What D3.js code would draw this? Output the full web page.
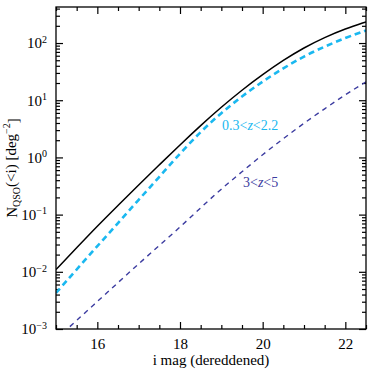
<!DOCTYPE html>
<html>
<head>
<meta charset="utf-8">
<script src="https://cdn.jsdelivr.net/npm/d3@7"></script>
</head>
<body style="margin:0">
<script>
// i magnitude grid
const mag = [15, 15.5, 16, 16.5, 17, 17.5, 18, 18.5, 19, 19.5, 20, 20.5, 21, 21.5, 22, 22.5]
// log10 N(<i) per sq deg
const logTotal = [-1.96, -1.58, -1.2, -0.84, -0.48, -0.13, 0.22, 0.56, 0.88, 1.18, 1.45, 1.7, 1.92, 2.1, 2.25, 2.37]
const logLowZ  = [-2.37, -1.96, -1.55, -1.15, -0.74, -0.34, 0.07, 0.45, 0.78, 1.07, 1.33, 1.56, 1.77, 1.94, 2.09, 2.22]
const logHighZ = [-3.18, -2.85, -2.52, -2.19, -1.86, -1.54, -1.22, -0.88, -0.55, -0.25, 0.05, 0.33, 0.6, 0.85, 1.1, 1.32]

const xMajor = [16, 18, 20, 22]
const yMajor = [-3, -2, -1, 0, 1, 2]     // exponents

const width = 374
const height = 374
const marginLeft = 56
const marginRight = 8
const marginTop = 7
const marginBottom = 45

const x = d3.scaleLinear([15, 22.5], [marginLeft, width - marginRight])
const y = d3.scaleLog([1e-3, Math.pow(10, 2.63)], [height - marginBottom, marginTop])

const svg = d3.select("body").append("svg")
    .attr("width", width)
    .attr("height", height)

// minor ticks
const xMinor = d3.range(15, 22.51, 0.5).filter(v => !xMajor.includes(v))
const yMinor = []
for (let e = -3; e <= 2; e++) {
    for (let k = 2; k <= 9; k++) {
        const v = k * Math.pow(10, e)
        if (v <= y.domain()[1]) yMinor.push(v)
    }
}

const tickStyle = g => {
    g.select(".domain").remove()
    g.attr("font-family", null)
    g.selectAll(".tick line").attr("stroke", "#000").attr("stroke-width", 1.2)
}

// bottom / top
svg.append("g")
    .attr("transform", `translate(0,${height - marginBottom})`)
    .call(d3.axisBottom(x).tickValues(xMajor).tickSize(-7).tickPadding(9).tickFormat(d3.format("d")))
    .call(tickStyle)
    .call(g => g.selectAll(".tick text").attr("font-size", 15).attr("fill", "#000"))
svg.append("g")
    .attr("transform", `translate(0,${height - marginBottom})`)
    .call(d3.axisBottom(x).tickValues(xMinor).tickSize(-4).tickFormat(""))
    .call(tickStyle)
svg.append("g")
    .attr("transform", `translate(0,${marginTop})`)
    .call(d3.axisTop(x).tickValues(xMajor).tickSize(-7).tickFormat(""))
    .call(tickStyle)
svg.append("g")
    .attr("transform", `translate(0,${marginTop})`)
    .call(d3.axisTop(x).tickValues(xMinor).tickSize(-4).tickFormat(""))
    .call(tickStyle)

// left / right
const yAxisLeft = svg.append("g")
    .attr("transform", `translate(${marginLeft},0)`)
    .call(d3.axisLeft(y).tickValues(yMajor.map(e => Math.pow(10, e))).tickSize(-7).tickPadding(9))
    .call(tickStyle)
yAxisLeft.selectAll(".tick text")
    .attr("font-size", 15).attr("fill", "#000")
    .text(null)
    .each(function(d) {
        const t = d3.select(this)
        const e = Math.round(Math.log10(d))
        t.append("tspan").text("10")
        t.append("tspan").attr("dy", "-0.55em").attr("font-size", 10)
            .text(e < 0 ? "\u2212" + Math.abs(e) : e)
    })
svg.append("g")
    .attr("transform", `translate(${marginLeft},0)`)
    .call(d3.axisLeft(y).tickValues(yMinor).tickSize(-4).tickFormat(""))
    .call(tickStyle)
svg.append("g")
    .attr("transform", `translate(${width - marginRight},0)`)
    .call(d3.axisRight(y).tickValues(yMajor.map(e => Math.pow(10, e))).tickSize(-7).tickFormat(""))
    .call(tickStyle)
svg.append("g")
    .attr("transform", `translate(${width - marginRight},0)`)
    .call(d3.axisRight(y).tickValues(yMinor).tickSize(-4).tickFormat(""))
    .call(tickStyle)

// curves
svg.append("clipPath").attr("id", "clip")
    .append("rect")
    .attr("x", marginLeft).attr("y", marginTop)
    .attr("width", width - marginLeft - marginRight)
    .attr("height", height - marginTop - marginBottom)

const line = d3.line()
    .x(d => x(d[0]))
    .y(d => y(Math.pow(10, d[1])))
    .curve(d3.curveBasis)

const series = [
    { vals: logTotal, color: "#000", width: 1.5, dash: null },
    { vals: logLowZ, color: "#1ab8f0", width: 2.6, dash: "6,4" },
    { vals: logHighZ, color: "#3c3ca0", width: 1.4, dash: "5,4.5" }
]
svg.append("g").attr("clip-path", "url(#clip)")
    .selectAll("path")
    .data(series)
    .join("path")
    .attr("fill", "none")
    .attr("stroke", s => s.color)
    .attr("stroke-width", s => s.width)
    .attr("stroke-dasharray", s => s.dash)
    .attr("d", s => line(mag.map((m, i) => [m, s.vals[i]])))

// frame
svg.append("rect")
    .attr("x", marginLeft).attr("y", marginTop)
    .attr("width", width - marginLeft - marginRight)
    .attr("height", height - marginTop - marginBottom)
    .attr("fill", "none").attr("stroke", "#000").attr("stroke-width", 1.3)

// labels on curves
const lbl1 = svg.append("text")
    .attr("x", 222).attr("y", 130)
    .attr("font-size", 14).attr("fill", "#1ab8f0")
lbl1.append("tspan").text("0.3<")
lbl1.append("tspan").attr("font-style", "italic").text("z")
lbl1.append("tspan").text("<2.2")

const lbl2 = svg.append("text")
    .attr("x", 243).attr("y", 187)
    .attr("font-size", 14).attr("fill", "#3c3ca0")
lbl2.append("tspan").text("3<")
lbl2.append("tspan").attr("font-style", "italic").text("z")
lbl2.append("tspan").text("<5")

// axis titles
svg.append("text")
    .attr("x", (marginLeft + width - marginRight) / 2)
    .attr("y", 365)
    .attr("text-anchor", "middle")
    .attr("font-size", 15)
    .text("i mag (dereddened)")

const yl = svg.append("text")
    .attr("transform", `translate(17,${(marginTop + height - marginBottom) / 2}) rotate(-90)`)
    .attr("text-anchor", "middle")
    .attr("font-size", 15)
yl.append("tspan").text("N")
yl.append("tspan").attr("font-size", 10).attr("dy", "0.3em").text("QSO")
yl.append("tspan").attr("dy", "-0.3em").text("(<i) [deg")
yl.append("tspan").attr("font-size", 10).attr("dy", "-0.55em").text("\u22122")
yl.append("tspan").attr("dy", "0.55em").text("]")

svg.selectAll("text, tspan")
    .attr("font-family", "Liberation Serif")
    .style("font-family", "'Liberation Serif'")
</script>
</body>
</html>
